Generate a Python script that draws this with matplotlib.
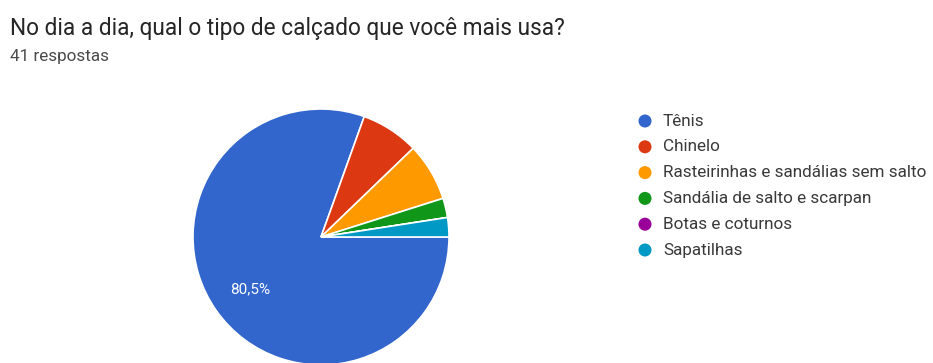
import matplotlib
matplotlib.use("Agg")
import matplotlib.pyplot as plt

plt.rcParams['font.family'] = ['Roboto', 'DejaVu Sans']

# respostas por tipo de calcado (41 no total)
labels = ['Tênis', 'Chinelo', 'Rasteirinhas e sandálias sem salto',
          'Sandália de salto e scarpan', 'Botas e coturnos', 'Sapatilhas']
counts = [33, 3, 3, 1, 0, 1]
colors = ['#3366CC', '#DC3912', '#FF9900', '#109618', '#990099', '#0099C6']
total = sum(counts)

W, H = 933, 363
fig = plt.figure(figsize=(W / 100, H / 100), dpi=100)
fig.patch.set_facecolor('white')

# camada em pixels para textos e legenda
lay = fig.add_axes([0, 0, 1, 1])
lay.set_xlim(0, W)
lay.set_ylim(H, 0)
lay.axis('off')

lay.text(10, 29, 'No dia a dia, qual o tipo de calçado que você mais usa?',
         fontsize=16.3, color='#262626', va='center', ha='left')
lay.text(10, 56, f'{total} respostas', fontsize=12.3, color='#4a4a4a',
         va='center', ha='left')

# pie: centro (321, 237), raio 128 px
cx, cy, r = 321, 237, 128
ax = fig.add_axes([(cx - r) / W, 1 - (cy + r) / H, 2 * r / W, 2 * r / H])
wedges, _ = ax.pie(counts, colors=colors, startangle=0, counterclock=False,
                   wedgeprops=dict(edgecolor='white', linewidth=1.2))
ax.set_xlim(-1, 1)
ax.set_ylim(-1, 1)
ax.set_aspect('equal')
ax.axis('off')

# rotulo da fatia maior
pct = counts[0] / total * 100
ax.text((250 - cx) / r, (cy - 289) / r, f'{pct:.1f}%'.replace('.', ','),
        color='white', fontsize=11, ha='center', va='center')

# legenda
y0, dy = 121, 25.8
for i, (lab, col) in enumerate(zip(labels, colors)):
    y = y0 + i * dy
    lay.scatter([645], [y], s=88, color=col, edgecolors='none')
    lay.text(663, y, lab, color='#3a3a3a', fontsize=12.3, ha='left', va='center')

fig.savefig('out.png', dpi=100, facecolor='white')
